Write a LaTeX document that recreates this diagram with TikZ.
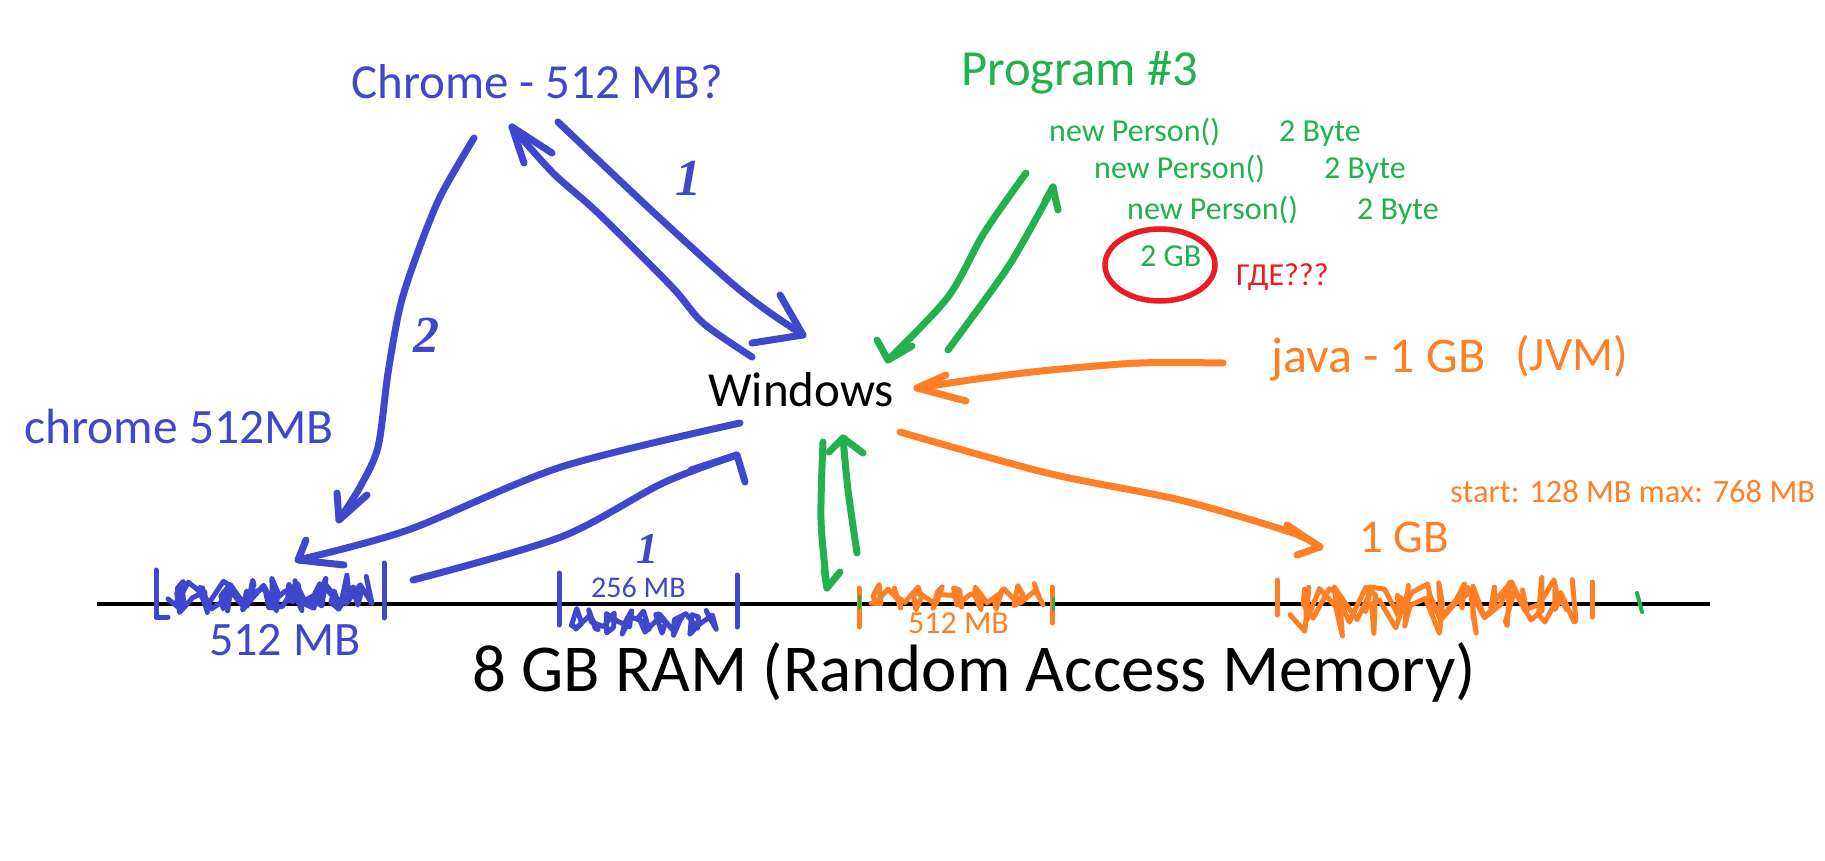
\documentclass[tikz,border=0pt]{standalone}
\usepackage{fontspec}
\setmainfont{Carlito}
\newfontfamily\handfont{Liberation Serif}
\usetikzlibrary{calc}
\definecolor{pblue}{HTML}{3F48CC}
\definecolor{pgreen}{HTML}{22B14C}
\definecolor{porange}{HTML}{FF7F27}
\definecolor{pred}{HTML}{ED1C24}
\newcommand{\fs}[1]{\fontsize{#1}{#1}\selectfont}
\newcommand{\scrib}[6]{%
  \draw[#1, line width=5pt, line cap=round, line join=round]
    plot[domain=0:1, samples=46]
    ({#2+(#3-#2)*\x + 9*sin(\x*3100+#6)}, {#4 + #5*sin(\x*5300+#6) + 0.35*#5*cos(\x*2300+2*#6)});
}
\begin{document}
\begin{tikzpicture}[x=1pt, y=-1pt,
  txt/.style={inner sep=0pt, anchor=base west},
  pen/.style={line width=7pt, line cap=round, line join=round},
  barline/.style={line width=5pt, line cap=round, line join=round},
  hand/.style={inner sep=0pt, font=\handfont\itshape\bfseries\fs{52}, text=pblue}
]
\useasboundingbox[fill=white] (0,0) rectangle (1825,861);

% ---------------- texts ----------------
\node[txt, text=pblue, font=\fs{49}] (chrome) at (351,99) {Chrome - 512 MB?};
\node[txt, text=pgreen, font=\fs{50.5}] (prog) at (961,86) {Program \#3};
\node[txt, text=pgreen, font=\fs{32}] (np1) at (1049,142) {new Person()};
\node[txt, text=pgreen, font=\fs{32}] (by1) at (1279,142) {2 Byte};
\node[txt, text=pgreen, font=\fs{32}] (np2) at (1094,179) {new Person()};
\node[txt, text=pgreen, font=\fs{32}] (by2) at (1324,179) {2 Byte};
\node[txt, text=pgreen, font=\fs{32}] (np3) at (1127,219) {new Person()};
\node[txt, text=pgreen, font=\fs{32}] (by3) at (1357,219) {2 Byte};
\node[txt, text=pgreen, font=\fs{32}] (gb2) at (1140,266) {2 GB};
\node[txt, text=pred, font=\fs{32}] (gde) at (1236,285) {ГДЕ???};
\node[txt, text=porange, font=\fs{50}] (java) at (1271,372) {java - 1 GB};
\node[txt, text=porange, font=\fs{48}] (jvm) at (1515,370) {(JVM)};
\node[txt, text=black, font=\fs{49}] (win) at (708,406) {Windows};
\node[txt, text=pblue, font=\fs{49.5}] (chromel) at (24,443) {chrome 512MB};
\node[txt, text=porange, font=\fs{32.5}] (startmax) at (1450,502) {start: 128 MB max: 768 MB};
\node[txt, text=porange, font=\fs{47}] (gb1) at (1359,552) {1 GB};
\node[txt, text=pblue, font=\fs{48}] (mb512) at (209,655) {512 MB};
\node[txt, text=pblue, font=\fs{30}] (mb256) at (591,597) {256 MB};
\node[txt, text=porange, font=\fs{32}] (omb512) at (908,633) {512 MB};
\node[txt, text=black, font=\fs{67}] (ram) at (472,691) {8 GB RAM (Random Access Memory)};

% handwritten numbers
\node[hand] (n1a) at (688,178) {1};
\node[hand] (n2) at (426,335) {2};
\node[hand, font=\handfont\itshape\bfseries\fs{44}] (n1b) at (647,549) {1};

% red circle around 2 GB
\draw[pred, line width=5.5pt] (1160,265) ellipse [x radius=55, y radius=36];

% ---------------- RAM line ----------------
\coordinate (l0) at (97,604);
\coordinate (l1) at (1710,604);
\draw[black, line width=4pt] (l0) -- (l1);

% ---------------- blue connectors ----------------
\coordinate (a1s) at (558,122); \coordinate (a1e) at (803,335);
\draw[pen,pblue] plot[smooth, tension=0.5] coordinates {(a1s) (651,210) (728,280) (766,310) (a1e)};
\draw[pen,pblue] (a1e) ++(-23,-40) -- (a1e) -- ++(-51,8);

\coordinate (a2s) at (752,357); \coordinate (a2e) at (512,127);
\draw[pen,pblue] plot[smooth, tension=0.5] coordinates {(a2s) (703,323) (672,287) (598,213) (553,173) (a2e)};
\draw[pen,pblue] (a2e) ++(12,36) -- (a2e) -- ++(40,26);

\coordinate (a3s) at (474,138); \coordinate (a3e) at (339,520);
\draw[pen,pblue] plot[smooth, tension=0.5] coordinates {(a3s) (440,197) (416,257) (400,307) (388,373) (378,447) (360,487) (a3e)};
\draw[pen,pblue] (a3e) ++(-2,-27) -- (a3e) -- ++(28,-25);

\coordinate (a4s) at (740,423); \coordinate (a4e) at (298,560);
\draw[pen,pblue] plot[smooth, tension=0.5] coordinates {(a4s) (561,467) (408,530) (a4e)};
\draw[pen,pblue] (a4e) ++(8,-20) -- (a4e) -- ++(46,5);

\coordinate (a5s) at (413,580); \coordinate (a5e) at (737,455);
\draw[pen,pblue] plot[smooth, tension=0.5] coordinates {(a5s) (561,537) (663,483) (a5e)};
\draw[pen,pblue] (a5e) ++(-46,15) -- (a5e) -- ++(8,27);

% blue memory blocks
\draw[barline,pblue] (168,617) -- (156,617) -- (156,570);
\draw[barline,pblue] (384,563) -- (384,618);
\scrib{pblue}{168}{372}{594}{14}{0}
\scrib{pblue}{175}{365}{598}{11}{90}
\draw[barline,pblue] (559,573) -- (559,625);
\draw[barline,pblue] (737,575) -- (737,627);
\scrib{pblue}{570}{715}{622}{10}{40}

% ---------------- orange connectors ----------------
\coordinate (o1s) at (1223,363); \coordinate (o1e) at (917,388);
\draw[pen,porange] plot[smooth, tension=0.5] coordinates {(o1s) (1140,363) (1051,370) (984,378) (o1e)};
\draw[pen,porange] (o1e) ++(29,-13) -- (o1e) -- ++(49,13);

\coordinate (o2s) at (900,432); \coordinate (o2e) at (1320,547);
\draw[pen,porange] plot[smooth, tension=0.5] coordinates {(o2s) (1047,473) (1180,500) (1290,532) (o2e)};
\draw[pen,porange] (o2e) ++(-33,-22) -- (o2e) -- ++(-23,8);

% orange memory blocks
\draw[barline,porange] (859,588) -- (859,627);
\draw[barline,porange] (1052,587) -- (1052,623);
\scrib{porange}{868}{1042}{597}{10}{20}
\draw[barline,porange] (1277,580) -- (1277,615);
\draw[barline,porange] (1592,582) -- (1592,617);
\scrib{porange}{1290}{1578}{607}{22}{0}
\scrib{porange}{1300}{1570}{600}{15}{120}

% ---------------- green connectors ----------------
\coordinate (g1s) at (1026,173); \coordinate (g1e) at (888,360);
\draw[pen,pgreen] plot[smooth, tension=0.5] coordinates {(g1s) (984,233) (948,297) (g1e)};
\draw[pen,pgreen] (g1e) ++(-11,-20) -- (g1e) -- ++(24,-14);

\coordinate (g2s) at (948,350); \coordinate (g2e) at (1053,187);
\draw[pen,pgreen] plot[smooth, tension=0.5] coordinates {(g2s) (1006,270) (1037,217) (g2e)};
\draw[pen,pgreen] (g2e) ++(-8,14) -- (g2e) -- ++(5,23);

\coordinate (g3s) at (823,442); \coordinate (g3e) at (827,588);
\draw[pen,pgreen] plot[smooth, tension=0.5] coordinates {(g3s) (821,520) (g3e)};
\draw[pen,pgreen] (g3e) ++(-3,-18) -- (g3e) -- ++(13,-16);

\coordinate (g4s) at (857,553); \coordinate (g4e) at (843,438);
\draw[pen,pgreen] plot[smooth, tension=0.5] coordinates {(g4s) (848,490) (g4e)};
\draw[pen,pgreen] (g4e) ++(-14,14) -- (g4e) -- ++(20,15);

% small green ticks
\draw[barline,pgreen, line width=4pt] (1637,593) -- (1642,612);
\draw[barline,pgreen, line width=3pt] (859,596) -- (859,608);
\draw[barline,pgreen, line width=3pt] (1053,598) -- (1053,610);
\end{tikzpicture}
\end{document}
